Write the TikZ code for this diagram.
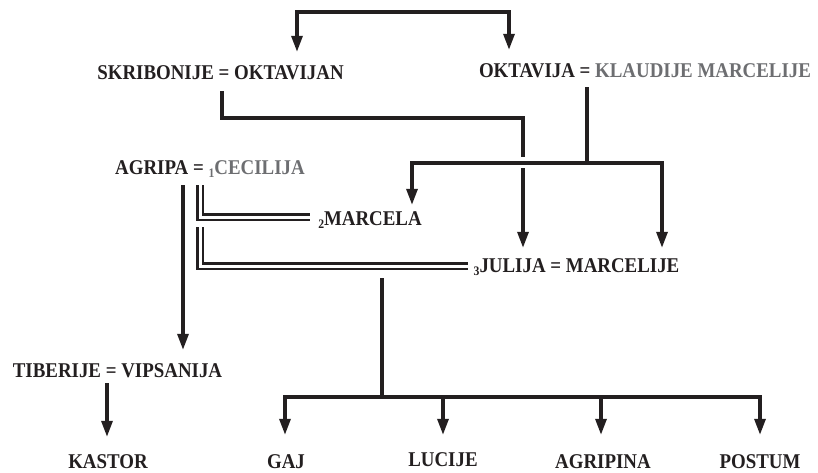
\documentclass[tikz,border=0pt]{standalone}
\usepackage{fontspec}
\setmainfont{Liberation Serif}[FakeStretch=0.9]
\usetikzlibrary{arrows.meta}
\definecolor{ink}{HTML}{231F20}
\definecolor{greytxt}{HTML}{6D6E71}
\newcommand\mysub[1]{\raisebox{-3.5pt}{\fontsize{13}{13}\selectfont #1}}
\begin{document}
\begin{tikzpicture}[x=1pt,y=-1pt,
 person/.style={font=\bfseries\fontsize{21}{21}\selectfont, text=ink, inner sep=0pt, text height=14pt, text depth=0pt},
 ln/.style={draw=ink, line width=3.2pt},
 arr/.style={ln, -{Triangle[length=16pt,width=11pt]}},
 dbl/.style={draw=ink, line width=2.6pt, double=white, double distance=3pt},
]
\useasboundingbox (0,0) rectangle (818,472);
% people
\node[person] (sk) at (220.5,72) {SKRIBONIJE = OKTAVIJAN};
\node[person] (ok) at (645,70) {OKTAVIJA = \textcolor{greytxt}{KLAUDIJE MARCELIJE}};
\node[person] (ag) at (210,167) {AGRIPA = \textcolor{greytxt}{\mysub{1}CECILIJA}};
\node[person] (ma) at (370,218) {\mysub{2}MARCELA};
\node[person] (ju) at (576.5,265) {\mysub{3}JULIJA = MARCELIJE};
\node[person] (ti) at (117.5,370) {TIBERIJE = VIPSANIJA};
\node[person] (ka) at (108,461) {KASTOR};
\node[person] (ga) at (286,461) {GAJ};
\node[person] (lu) at (443,459) {LUCIJE};
\node[person] (ap) at (603,461) {AGRIPINA};
\node[person] (po) at (760,461) {POSTUM};
% junction points
\coordinate (tl) at (297,12);
\coordinate (tr) at (509,12);
\coordinate (s1) at (222,118);
\coordinate (s2) at (523,118);
\coordinate (s3) at (523,157);
\coordinate (s4) at (523,168);
\coordinate (o1) at (587,163);
\coordinate (hL) at (412,163);
\coordinate (hR) at (662,163);
\coordinate (a1) at (183,185);
\coordinate (d1) at (200,217);
\coordinate (d1e) at (310,217);
\coordinate (d2t) at (200,227);
\coordinate (d2) at (200,266);
\coordinate (d2e) at (468,266);
\coordinate (j1) at (382,397);
\coordinate (cL) at (285,397);
\coordinate (m1) at (443,397);
\coordinate (m2) at (601,397);
\coordinate (cR) at (760,397);
\coordinate (t1) at (107,383);
% connectors
\draw[ln, {Triangle[length=16pt,width=11pt]}-{Triangle[length=16pt,width=11pt]}, shorten <=13pt, shorten >=13pt]
  (tl |- sk.north) -- (tl) -- (tr) -- (tr |- ok.north);
\draw[ln, shorten <=12pt] (sk.south -| s1) -- (s1) -- (s2) -- (s3);
\draw[arr, shorten >=10pt] (s4) -- (s4 |- ju.north);
\draw[ln, shorten <=10pt] (ok.south -| o1) -- (o1);
\draw[arr, shorten >=6pt] (o1) -- (hL) -- (hL |- ma.north);
\draw[arr, shorten >=10pt] (o1) -- (hR) -- (hR |- ju.north);
\draw[arr, shorten <=11pt, shorten >=13pt] (ag.south -| a1) -- (a1 |- ti.north);
\draw[dbl, shorten <=11pt] (ag.south -| d1) -- (d1) -- (d1e);
\draw[dbl] (d2t) -- (d2) -- (d2e);
\draw[ln, shorten <=6pt] (ju.south -| j1) -- (j1);
\draw[arr, shorten >=19pt] (j1) -- (cL) -- (cL |- ga.north);
\draw[arr, shorten >=17pt] (m1) -- (m1 |- lu.north);
\draw[arr, shorten >=19pt] (m2) -- (m2 |- ap.north);
\draw[arr, shorten >=19pt] (j1) -- (cR) -- (cR |- po.north);
\draw[arr, shorten <=6pt, shorten >=17pt] (ti.south -| t1) -- (t1 |- ka.north);
\end{tikzpicture}
\end{document}
